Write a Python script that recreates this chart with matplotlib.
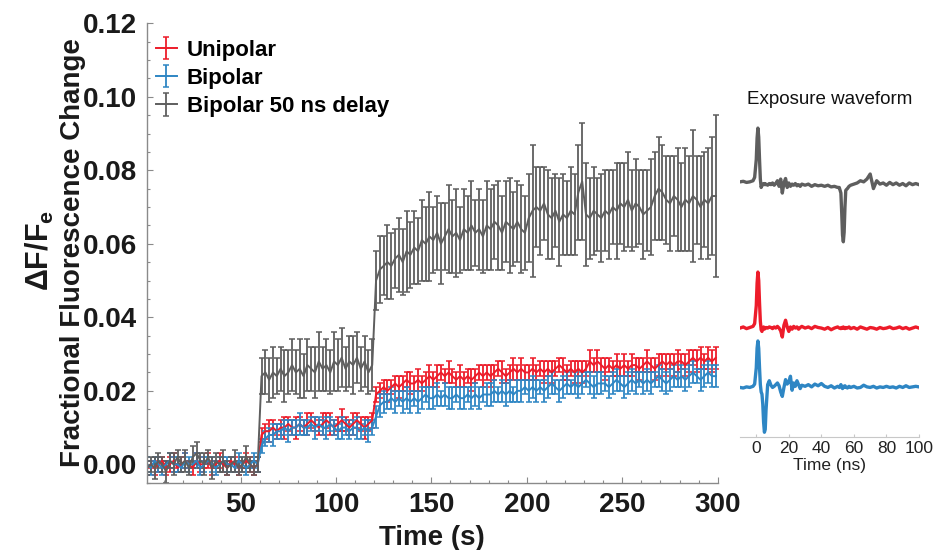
import numpy as np
import matplotlib
matplotlib.use("Agg")
import matplotlib.pyplot as plt
from matplotlib.ticker import MultipleLocator, FormatStrFormatter

plt.rcParams["font.family"] = ["Liberation Sans", "DejaVu Sans"]
plt.rcParams["mathtext.fontset"] = "custom"
plt.rcParams["mathtext.rm"] = "Liberation Sans"
plt.rcParams["mathtext.bf"] = "Liberation Sans:bold"

# ---- main panel data (sampled every 2 s) ----
time_s = np.arange(1, 300, 2)

unipolar = [
    -0.001, 0.000, -0.001, 0.000, 0.001, -0.001, 0.000, 0.001, -0.001, 0.000,
    0.001, 0.000, -0.001, 0.001, 0.000, 0.000, 0.001, -0.001, 0.000, 0.001,
    0.000, -0.001, 0.001, 0.000, -0.001, 0.000, 0.001, 0.000, -0.001, 0.000,
    0.008, 0.009, 0.009, 0.010, 0.009, 0.010, 0.010, 0.011, 0.010, 0.010,
    0.011, 0.010, 0.011, 0.012, 0.011, 0.010, 0.011, 0.012, 0.011, 0.010,
    0.011, 0.012, 0.011, 0.010, 0.011, 0.012, 0.011, 0.010, 0.011, 0.012,
    0.019, 0.020, 0.021, 0.020, 0.021, 0.022, 0.021, 0.022, 0.023, 0.022,
    0.022, 0.023, 0.022, 0.023, 0.024, 0.023, 0.024, 0.025, 0.024, 0.025,
    0.024, 0.023, 0.024, 0.023, 0.024, 0.023, 0.024, 0.025, 0.024, 0.025,
    0.024, 0.025, 0.026, 0.025, 0.024, 0.025, 0.026, 0.025, 0.026, 0.025,
    0.025, 0.026, 0.025, 0.026, 0.025, 0.026, 0.025, 0.026, 0.027, 0.026,
    0.025, 0.026, 0.025, 0.026, 0.025, 0.026, 0.028, 0.027, 0.028, 0.027,
    0.026, 0.027, 0.026, 0.027, 0.026, 0.027, 0.026, 0.027, 0.027, 0.026,
    0.027, 0.028, 0.027, 0.026, 0.027, 0.028, 0.027, 0.028, 0.027, 0.028,
    0.028, 0.027, 0.028, 0.029, 0.028, 0.029, 0.028, 0.029, 0.028, 0.029,
]
unipolar_err = [
    0.002, 0.001, 0.002, 0.002, 0.001, 0.002, 0.002, 0.002, 0.001, 0.002,
    0.002, 0.001, 0.002, 0.002, 0.002, 0.001, 0.002, 0.002, 0.001, 0.002,
    0.002, 0.002, 0.001, 0.002, 0.002, 0.001, 0.002, 0.002, 0.002, 0.002,
    0.002, 0.002, 0.003, 0.002, 0.002, 0.002, 0.003, 0.002, 0.002, 0.003,
    0.002, 0.002, 0.003, 0.002, 0.002, 0.002, 0.003, 0.002, 0.003, 0.002,
    0.002, 0.003, 0.002, 0.002, 0.003, 0.002, 0.002, 0.003, 0.002, 0.002,
    0.002, 0.002, 0.002, 0.003, 0.002, 0.002, 0.003, 0.002, 0.002, 0.003,
    0.002, 0.003, 0.002, 0.002, 0.003, 0.002, 0.003, 0.002, 0.002, 0.003,
    0.002, 0.002, 0.003, 0.002, 0.002, 0.003, 0.002, 0.002, 0.003, 0.002,
    0.003, 0.002, 0.002, 0.003, 0.002, 0.002, 0.003, 0.002, 0.003, 0.002,
    0.002, 0.003, 0.002, 0.002, 0.003, 0.002, 0.003, 0.002, 0.002, 0.003,
    0.002, 0.002, 0.003, 0.002, 0.003, 0.002, 0.003, 0.002, 0.003, 0.002,
    0.003, 0.002, 0.002, 0.003, 0.002, 0.003, 0.002, 0.003, 0.002, 0.003,
    0.002, 0.003, 0.002, 0.003, 0.003, 0.002, 0.003, 0.002, 0.003, 0.003,
    0.002, 0.003, 0.003, 0.002, 0.003, 0.003, 0.002, 0.003, 0.003, 0.003,
]

bipolar = [
    0.000, -0.001, 0.001, 0.000, -0.001, 0.000, 0.001, 0.000, 0.000, -0.001,
    0.001, 0.000, 0.000, 0.001, -0.001, 0.000, 0.001, 0.000, -0.001, 0.000,
    0.001, 0.000, 0.000, -0.001, 0.001, 0.000, -0.001, 0.000, 0.001, 0.000,
    0.005, 0.007, 0.008, 0.008, 0.009, 0.009, 0.010, 0.009, 0.010, 0.010,
    0.011, 0.010, 0.010, 0.011, 0.010, 0.011, 0.010, 0.010, 0.011, 0.010,
    0.009, 0.010, 0.010, 0.009, 0.010, 0.010, 0.009, 0.010, 0.009, 0.010,
    0.013, 0.016, 0.017, 0.017, 0.018, 0.017, 0.018, 0.017, 0.018, 0.017,
    0.018, 0.017, 0.018, 0.019, 0.018, 0.018, 0.019, 0.018, 0.019, 0.018,
    0.018, 0.019, 0.018, 0.018, 0.019, 0.018, 0.019, 0.018, 0.019, 0.019,
    0.019, 0.020, 0.019, 0.020, 0.019, 0.020, 0.019, 0.020, 0.020, 0.021,
    0.020, 0.021, 0.020, 0.021, 0.020, 0.021, 0.022, 0.021, 0.020, 0.021,
    0.022, 0.021, 0.022, 0.021, 0.022, 0.023, 0.022, 0.021, 0.022, 0.022,
    0.022, 0.021, 0.022, 0.023, 0.022, 0.021, 0.022, 0.023, 0.022, 0.023,
    0.022, 0.023, 0.022, 0.023, 0.024, 0.023, 0.022, 0.023, 0.024, 0.023,
    0.024, 0.023, 0.024, 0.025, 0.024, 0.023, 0.024, 0.025, 0.024, 0.024,
]
bipolar_err = [
    0.002, 0.002, 0.001, 0.002, 0.002, 0.001, 0.002, 0.002, 0.002, 0.001,
    0.002, 0.002, 0.001, 0.002, 0.002, 0.002, 0.001, 0.002, 0.002, 0.002,
    0.001, 0.002, 0.002, 0.001, 0.002, 0.002, 0.002, 0.001, 0.002, 0.002,
    0.002, 0.002, 0.002, 0.003, 0.002, 0.002, 0.002, 0.003, 0.002, 0.002,
    0.003, 0.002, 0.002, 0.002, 0.003, 0.002, 0.002, 0.003, 0.002, 0.002,
    0.002, 0.003, 0.002, 0.002, 0.002, 0.003, 0.002, 0.002, 0.003, 0.002,
    0.003, 0.003, 0.003, 0.002, 0.003, 0.003, 0.002, 0.003, 0.003, 0.003,
    0.002, 0.003, 0.003, 0.002, 0.003, 0.003, 0.003, 0.002, 0.003, 0.003,
    0.003, 0.002, 0.003, 0.003, 0.002, 0.003, 0.003, 0.003, 0.002, 0.003,
    0.003, 0.003, 0.002, 0.003, 0.003, 0.003, 0.002, 0.003, 0.003, 0.002,
    0.003, 0.003, 0.003, 0.002, 0.003, 0.003, 0.003, 0.002, 0.003, 0.003,
    0.003, 0.002, 0.003, 0.003, 0.003, 0.002, 0.003, 0.003, 0.003, 0.003,
    0.002, 0.003, 0.003, 0.003, 0.002, 0.003, 0.003, 0.003, 0.003, 0.002,
    0.003, 0.003, 0.003, 0.002, 0.003, 0.003, 0.003, 0.003, 0.003, 0.002,
    0.003, 0.003, 0.003, 0.003, 0.002, 0.003, 0.003, 0.003, 0.003, 0.003,
]

bipolar_delay = [
    -0.001, 0.000, -0.001, 0.001, 0.000, -0.002, 0.001, 0.000, 0.002, 0.000,
    0.001, -0.001, 0.002, 0.003, 0.001, 0.000, 0.002, -0.001, 0.001, 0.000,
    0.001, -0.001, 0.000, 0.001, -0.001, 0.000, 0.002, 0.000, -0.001, 0.000,
    0.024, 0.025, 0.023, 0.025, 0.024, 0.026, 0.024, 0.025, 0.027, 0.025,
    0.026, 0.024, 0.027, 0.026, 0.025, 0.028, 0.026, 0.027, 0.025, 0.028,
    0.027, 0.029, 0.026, 0.028, 0.027, 0.029, 0.026, 0.028, 0.025, 0.027,
    0.050, 0.053, 0.054, 0.055, 0.054, 0.056, 0.057, 0.055, 0.058, 0.057,
    0.059, 0.058, 0.061, 0.060, 0.062, 0.061, 0.063, 0.060, 0.062, 0.064,
    0.062, 0.063, 0.061, 0.064, 0.063, 0.065, 0.063, 0.064, 0.062, 0.065,
    0.064, 0.066, 0.065, 0.063, 0.066, 0.065, 0.064, 0.066, 0.064, 0.063,
    0.067, 0.069, 0.070, 0.069, 0.071, 0.068, 0.067, 0.069, 0.066, 0.068,
    0.067, 0.069, 0.068, 0.074, 0.077, 0.068, 0.067, 0.069, 0.068, 0.067,
    0.069, 0.068, 0.070, 0.069, 0.071, 0.070, 0.072, 0.069, 0.071, 0.070,
    0.068, 0.069, 0.070, 0.073, 0.075, 0.074, 0.072, 0.071, 0.073, 0.072,
    0.070, 0.072, 0.071, 0.073, 0.072, 0.070, 0.072, 0.071, 0.073, 0.073,
]
bipolar_delay_err = [
    0.002, 0.002, 0.003, 0.002, 0.002, 0.003, 0.002, 0.003, 0.002, 0.002,
    0.003, 0.002, 0.003, 0.003, 0.002, 0.003, 0.002, 0.003, 0.002, 0.002,
    0.003, 0.002, 0.002, 0.003, 0.002, 0.002, 0.003, 0.002, 0.002, 0.002,
    0.005, 0.006, 0.006, 0.007, 0.005, 0.006, 0.007, 0.006, 0.007, 0.006,
    0.008, 0.006, 0.007, 0.006, 0.007, 0.008, 0.006, 0.007, 0.006, 0.008,
    0.007, 0.008, 0.006, 0.007, 0.008, 0.007, 0.006, 0.007, 0.006, 0.007,
    0.008, 0.009, 0.008, 0.010, 0.009, 0.008, 0.010, 0.009, 0.011, 0.009,
    0.010, 0.009, 0.011, 0.010, 0.012, 0.009, 0.010, 0.011, 0.009, 0.012,
    0.010, 0.012, 0.009, 0.011, 0.010, 0.012, 0.009, 0.011, 0.010, 0.012,
    0.011, 0.010, 0.012, 0.010, 0.011, 0.013, 0.010, 0.011, 0.012, 0.010,
    0.012, 0.018, 0.011, 0.012, 0.010, 0.012, 0.011, 0.010, 0.012, 0.011,
    0.010, 0.012, 0.011, 0.013, 0.016, 0.014, 0.011, 0.012, 0.010, 0.012,
    0.011, 0.012, 0.010, 0.013, 0.011, 0.012, 0.013, 0.011, 0.012, 0.010,
    0.012, 0.011, 0.013, 0.012, 0.014, 0.013, 0.012, 0.013, 0.011, 0.014,
    0.012, 0.014, 0.013, 0.018, 0.012, 0.014, 0.013, 0.015, 0.016, 0.022,
]

series_labels = ["Unipolar", "Bipolar", "Bipolar 50 ns delay"]

# ---- inset: exposure waveforms (normalised amplitude) ----
t_ns = [
    -10, -8, -6, -4, -2, -1,
    0, 0.5, 1, 1.5, 2, 2.5, 3, 3.5, 4, 4.5, 5, 5.5, 6,
    7, 8, 9, 10, 11, 12, 13, 14, 15, 16, 17, 18, 19, 20, 21, 22, 23, 24, 25, 26, 27, 28,
    30, 32, 34, 36, 38, 40, 42, 44, 46, 48, 50,
    51, 52, 52.5, 53, 53.5, 54, 54.5, 55, 56, 57, 58,
    60, 62, 64, 66, 68, 70, 72, 74, 76, 78, 80, 82, 84, 86, 88, 90, 92, 94, 96, 98, 100,
]
wave_unipolar = [
    0.0, 0.02, -0.01, 0.01, 0.03, 0.08,
    0.4, 0.8, 1.0, 0.85, 0.45, 0.12, -0.03, -0.06, 0.0, 0.02, -0.02, 0.0, 0.01,
    0.0, 0.02, 0.01, -0.01, 0.02, 0.0, 0.03, 0.0, -0.05, -0.16, 0.05, 0.14, 0.02, -0.06, 0.02, -0.02, 0.03, 0.0, 0.02, -0.02, 0.01, 0.03,
    0.0, 0.02, -0.01, 0.03, 0.01, 0.0, -0.02, 0.01, -0.03, 0.0, 0.02,
    0.0, -0.01, 0.01, 0.0, 0.02, 0.0, -0.01, 0.01, 0.0, 0.02, -0.01,
    0.01, -0.02, 0.02, 0.0, -0.02, 0.01, 0.0, -0.02, 0.01, -0.01, 0.0, 0.02, -0.01, 0.0, 0.02, -0.01, 0.01, -0.02, 0.0, 0.02, 0.0,
]
wave_bipolar = [
    0.0, -0.01, 0.01, 0.0, 0.02, 0.06,
    0.35, 0.7, 0.83, 0.7, 0.35, 0.05, -0.08, -0.12, -0.3, -0.62, -0.8, -0.75, -0.4,
    0.05, 0.12, 0.04, 0.0, 0.02, 0.05, 0.08, 0.03, -0.08, -0.16, 0.0, 0.14, 0.06, 0.1, 0.2, -0.05, 0.08, 0.02, 0.12, 0.05, -0.02, 0.04,
    0.02, 0.05, 0.01, 0.06, 0.03, 0.07, 0.02, 0.0, 0.03, -0.01, 0.02,
    0.0, 0.05, 0.01, -0.02, 0.02, 0.0, 0.03, 0.01, -0.01, 0.02, 0.0,
    0.02, -0.01, 0.0, 0.04, 0.01, 0.0, 0.02, -0.01, 0.01, 0.0, 0.02, 0.0, 0.01, -0.01, 0.02, 0.0, 0.03, 0.0, 0.01, 0.02, 0.01,
]
wave_delay = [
    0.0, 0.01, -0.01, 0.0, 0.02, 0.08,
    0.4, 0.78, 0.96, 0.8, 0.4, 0.05, -0.1, -0.06, -0.04, -0.05, -0.03, -0.05, -0.04,
    -0.06, -0.03, -0.05, -0.02, -0.06, -0.03, 0.02, -0.08, 0.05, -0.2, -0.02, 0.06, -0.1, -0.02, -0.08, -0.04, -0.06, -0.03, -0.07, -0.05, -0.08, -0.04,
    -0.06, -0.04, -0.08, -0.05, -0.07, -0.06, -0.08, -0.06, -0.09, -0.08, -0.1,
    -0.1, -0.2, -0.55, -0.95, -1.07, -0.9, -0.45, -0.15, -0.12, -0.08, -0.06,
    -0.04, -0.02, 0.02, 0.0, 0.05, 0.14, -0.12, 0.02, -0.04, -0.02, -0.06, -0.01, -0.05, -0.02, -0.06, -0.03, -0.07, -0.02, -0.05, -0.03, -0.05,
]

RED = "#ED1C2A"
BLUE = "#2E86C4"
GRAY = "#5E5E5E"
AXIS_GRAY = "#8A8A8A"

fig = plt.figure(figsize=(9.34, 5.5), dpi=100)
W, H = 934.0, 550.0

# main axes
ax = fig.add_axes([147 / W, 1 - 482.7 / H, (717.7 - 147) / W, (482.7 - 23.3) / H])
for vals, errs, col, lab in zip(
    [unipolar, bipolar, bipolar_delay],
    [unipolar_err, bipolar_err, bipolar_delay_err],
    [RED, BLUE, GRAY],
    series_labels,
):
    ax.errorbar(time_s, vals, yerr=errs, color=col, ecolor=col, lw=1.4,
                elinewidth=1.3, capsize=2.2, capthick=1.1, label=lab)

ax.set_xlim(1, 300)
ax.set_ylim(-0.005, 0.12)
ax.xaxis.set_major_locator(MultipleLocator(50))
ax.xaxis.set_minor_locator(MultipleLocator(10))
ax.yaxis.set_major_locator(MultipleLocator(0.02))
ax.yaxis.set_minor_locator(MultipleLocator(0.005))
ax.yaxis.set_major_formatter(FormatStrFormatter("%.2f"))
for s in ["top", "right"]:
    ax.spines[s].set_visible(False)
for s in ["left", "bottom"]:
    ax.spines[s].set_color(AXIS_GRAY)
    ax.spines[s].set_linewidth(1.0)
ax.tick_params(which="major", direction="in", length=4, width=0.8, color=AXIS_GRAY,
               labelsize=20, pad=7)
ax.tick_params(which="minor", direction="in", length=2.5, width=0.8, color=AXIS_GRAY)
for lbl in ax.get_xticklabels() + ax.get_yticklabels():
    lbl.set_fontweight("bold")
    lbl.set_color("#1a1a1a")
ax.set_xlabel("Time (s)", fontsize=20, fontweight="bold", color="#1a1a1a", labelpad=5)

fig.text(73 / W, 1 - 253 / H, "Fractional Fluorescence Change", rotation=90,
         ha="center", va="center", fontsize=20, fontweight="bold", color="#1a1a1a")
fig.text(40 / W, 1 - 250 / H, r"$\mathbf{\Delta F/F_e}$", rotation=90,
         ha="center", va="center", fontsize=22, color="#1a1a1a")

ax.legend(loc="upper left", bbox_to_anchor=(0.0, 0.983), frameon=False,
          prop={"weight": "bold", "size": 16},
          handlelength=0.95, handletextpad=0.45, labelspacing=0.32,
          borderaxespad=0.1, borderpad=0.3)

# inset axes with exposure waveforms
ins = fig.add_axes([740 / W, 1 - 437.3 / H, 179 / W, (437.3 - 118) / H])
off_delay, off_uni, off_bi = 4.56, 1.95, 0.89
ins.plot(t_ns, np.array(wave_delay) + off_delay, color=GRAY, lw=2.4)
ins.plot(t_ns, np.array(wave_unipolar) + off_uni, color=RED, lw=2.4)
ins.plot(t_ns, np.array(wave_bipolar) + off_bi, color=BLUE, lw=2.4)
ins.set_xlim(-10, 100)
ins.set_ylim(0, 5.7)
for s in ["top", "right", "left"]:
    ins.spines[s].set_visible(False)
ins.spines["bottom"].set_color("#C8C8C8")
ins.set_yticks([])
ins.set_xticks([0, 20, 40, 60, 80, 100])
ins.tick_params(axis="x", direction="in", length=2.5, color="#C8C8C8", labelsize=12.5,
                pad=3, labelcolor="#222222")
ins.set_xlabel("Time (ns)", fontsize=12.5, color="#222222", labelpad=1)
ins.set_title("Exposure waveform", fontsize=13.5, color="#111111", pad=10)
ins.patch.set_alpha(0)

fig.savefig("out.png", dpi=100)
